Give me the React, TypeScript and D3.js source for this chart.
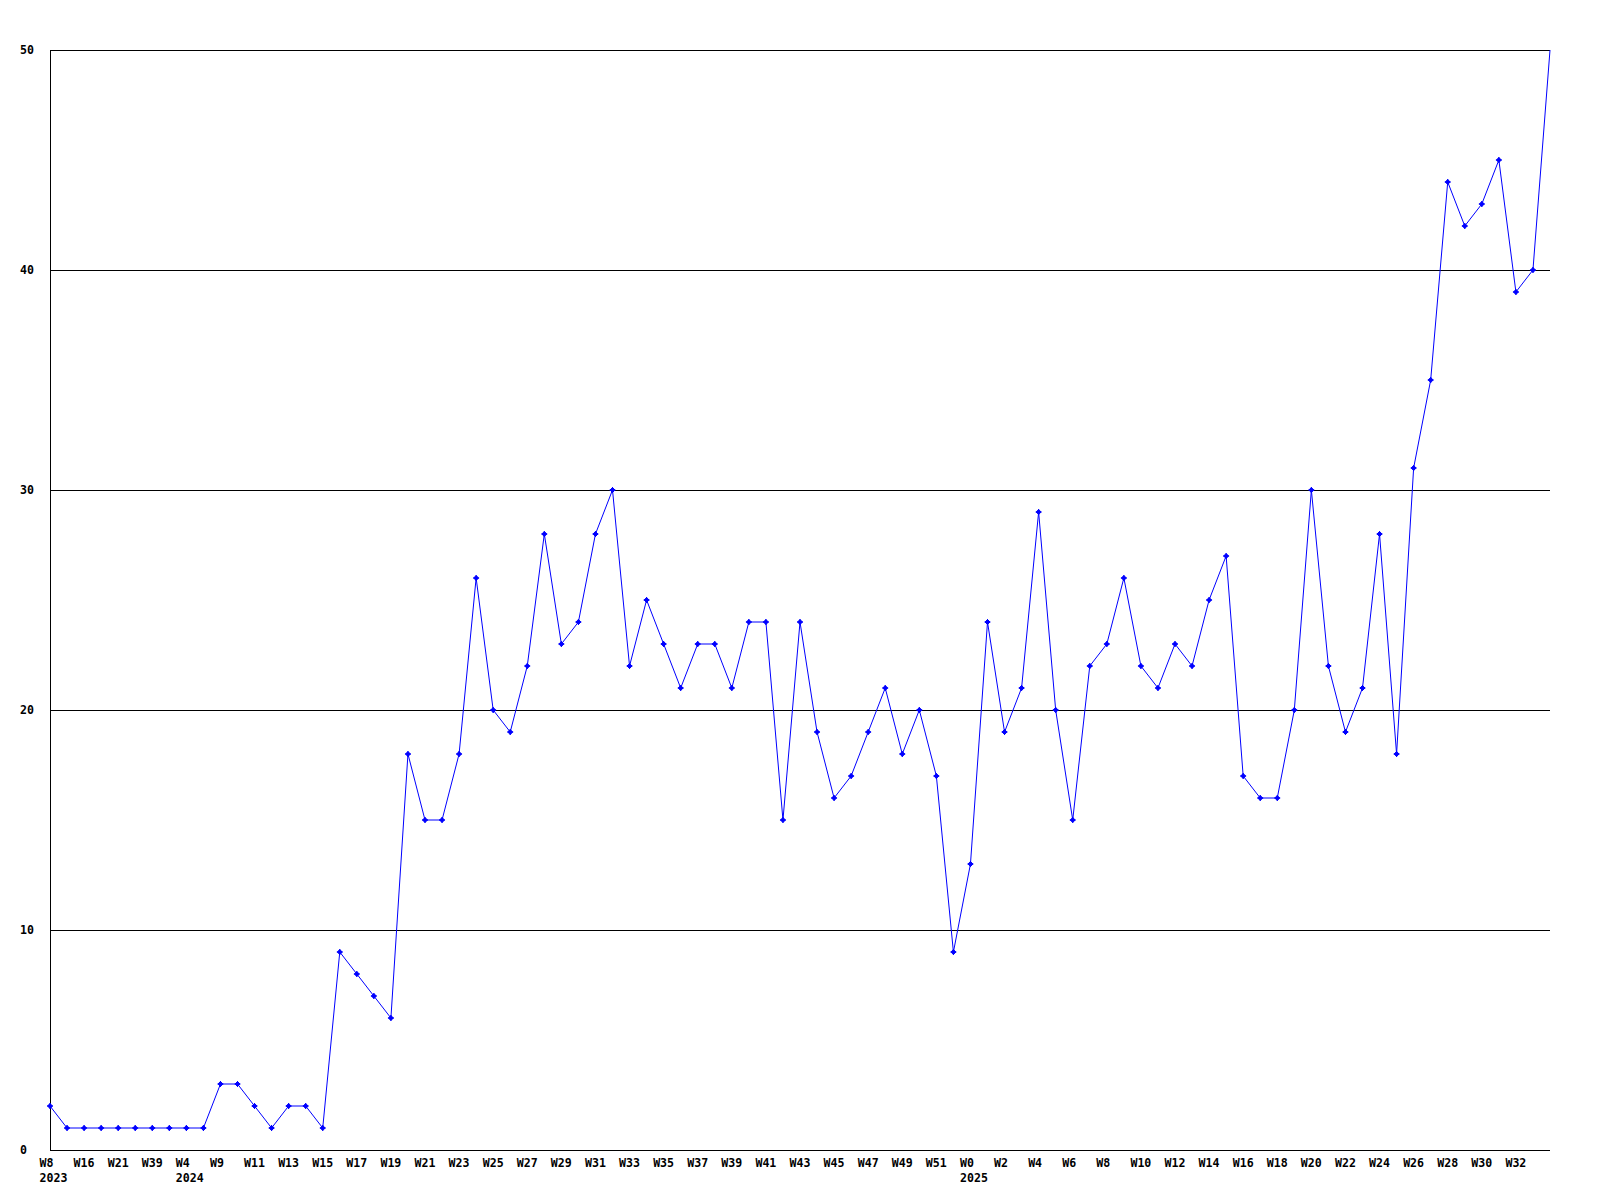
import React from "react";
import * as d3 from "d3";

const weeks: string[] = [
  "W8", "W12", "W16", "W18", "W21", "W30", "W39", "W45",
  "W4", "W7",
  "W9", "W10", "W11", "W12", "W13", "W14", "W15", "W16", "W17", "W18", "W19", "W20",
  "W21", "W22", "W23", "W24", "W25", "W26", "W27", "W28", "W29", "W30", "W31", "W32",
  "W33", "W34", "W35", "W36", "W37", "W38", "W39", "W40", "W41", "W42", "W43", "W44",
  "W45", "W46", "W47", "W48", "W49", "W50", "W51", "W52",
  "W0", "W1", "W2", "W3", "W4", "W5", "W6", "W7", "W8", "W9", "W10", "W11",
  "W12", "W13", "W14", "W15", "W16", "W17", "W18", "W19", "W20", "W21", "W22", "W23",
  "W24", "W25", "W26", "W27", "W28", "W29", "W30", "W31", "W32", "W33", "W34",
];

const years: { index: number; label: string }[] = [
  { index: 0, label: "2023" },
  { index: 8, label: "2024" },
  { index: 54, label: "2025" },
];

const counts: number[] = [
  2, 1, 1, 1, 1, 1, 1, 1, 1, 1, 3, 3, 2, 1, 2, 2, 1, 9, 8, 7, 6,
  18, 15, 15, 18, 26, 20, 19, 22, 28, 23, 24, 28, 30, 22, 25, 23, 21, 23, 23, 21,
  24, 24, 15, 24, 19, 16, 17, 19, 21, 18, 20, 17, 9, 13, 24, 19, 21, 29, 20, 15,
  22, 23, 26, 22, 21, 23, 22, 25, 27, 17, 16, 16, 20, 30, 22, 19, 21, 28, 18, 31,
  35, 44, 42, 43, 45, 39, 40, 50,
];

const yTicks: number[] = [0, 10, 20, 30, 40, 50];

const FONT = "'DejaVu Sans Mono', 'Liberation Mono', monospace";

export default function App() {
  const W = 1600;
  const H = 1200;
  const left = 50;
  const right = 1550;
  const top = 50;
  const bottom = 1150;

  const x = d3.scaleLinear().domain([0, counts.length - 1]).range([left, right]);
  const y = d3.scaleLinear().domain([0, 50]).range([bottom, top]);

  const line = d3
    .line<number>()
    .x((_, i) => x(i))
    .y((d) => y(d));

  const markerPath = "M0,-2.5L2.5,0L0,2.5L-2.5,0Z M-3,0L3,0 M0,-3L0,3";

  return (
    <svg
      width={W}
      height={H}
      style={{ position: "absolute", left: 0, top: 0, display: "block", background: "#fff" }}
    >
      <rect x={0} y={0} width={W} height={H} fill="#fff" />
      {yTicks.filter((t) => t > 0).map((t) => (
        <line
          key={t}
          x1={left}
          x2={right}
          y1={Math.round(y(t)) + 0.5}
          y2={Math.round(y(t)) + 0.5}
          stroke="#000"
          strokeWidth={1}
          shapeRendering="crispEdges"
        />
      ))}
      <line x1={left + 0.5} x2={left + 0.5} y1={top} y2={bottom + 1} stroke="#000" shapeRendering="crispEdges" />
      <line x1={left} x2={right} y1={bottom + 0.5} y2={bottom + 0.5} stroke="#000" shapeRendering="crispEdges" />
      {yTicks.map((t) => (
        <text
          key={t}
          x={20}
          y={y(t) + 4.2}
          fontFamily={FONT}
          fontWeight="bold"
          fontSize={11.6}
          fill="#000"
        >
          {t}
        </text>
      ))}
      {weeks.map((w, i) =>
        i % 2 === 0 && i < weeks.length - 1 ? (
          <text
            key={i}
            x={x(i) - 10.5}
            y={1166.5}
            fontFamily={FONT}
            fontWeight="bold"
            fontSize={11.6}
            fill="#000"
          >
            {w}
          </text>
        ) : null
      )}
      {years.map((yr) => (
        <text
          key={yr.label}
          x={x(yr.index) - 10.5}
          y={1181.5}
          fontFamily={FONT}
          fontWeight="bold"
          fontSize={11.6}
          fill="#000"
        >
          {yr.label}
        </text>
      ))}
      <path d={line(counts) || ""} fill="none" stroke="#0000ff" strokeWidth={1} />
      {counts.slice(0, counts.length - 1).map((d, i) => (
        <path
          key={i}
          d={markerPath}
          transform={`translate(${x(i)},${y(d)})`}
          fill="#0000ff"
          stroke="#0000ff"
          strokeWidth={1}
        />
      ))}
    </svg>
  );
}
